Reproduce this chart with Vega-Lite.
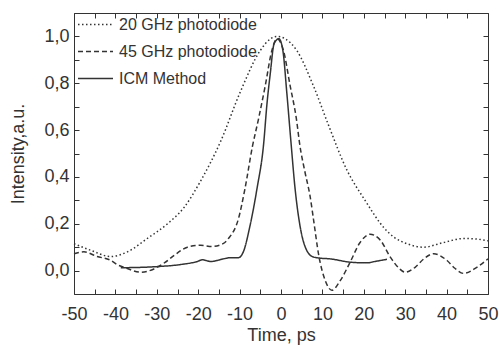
{
  "$schema": "https://vega.github.io/schema/vega-lite/v6.json",
  "width": 414,
  "height": 281,
  "autosize": {"type": "none"},
  "padding": {"left": 74, "top": 13, "right": 11, "bottom": 51},
  "background": "white",
  "config": {
    "view": {"stroke": null},
    "font": "Liberation Sans",
    "axis": {
      "grid": false,
      "domainColor": "#333333",
      "domainWidth": 1,
      "tickColor": "#333333",
      "tickWidth": 1,
      "tickSize": -5,
      "labelColor": "#333333",
      "labelFont": "Liberation Sans",
      "labelFontSize": 18,
      "titleColor": "#333333",
      "titleFont": "Liberation Sans",
      "titleFontSize": 18,
      "titleFontWeight": "normal"
    },
    "legend": {
      "labelFont": "Liberation Sans",
      "labelFontSize": 16,
      "labelColor": "#333333"
    }
  },
  "data": {
    "values": [
      {"t": -50, "v": 0.115, "s": "20 GHz photodiode"},
      {"t": -46, "v": 0.087, "s": "20 GHz photodiode"},
      {"t": -41.1, "v": 0.06, "s": "20 GHz photodiode"},
      {"t": -37.1, "v": 0.08, "s": "20 GHz photodiode"},
      {"t": -32.3, "v": 0.137, "s": "20 GHz photodiode"},
      {"t": -27.4, "v": 0.2, "s": "20 GHz photodiode"},
      {"t": -23.4, "v": 0.27, "s": "20 GHz photodiode"},
      {"t": -19.5, "v": 0.38, "s": "20 GHz photodiode"},
      {"t": -14.5, "v": 0.555, "s": "20 GHz photodiode"},
      {"t": -9.9, "v": 0.76, "s": "20 GHz photodiode"},
      {"t": -5, "v": 0.94, "s": "20 GHz photodiode"},
      {"t": -2.5, "v": 0.99, "s": "20 GHz photodiode"},
      {"t": -1, "v": 1.0, "s": "20 GHz photodiode"},
      {"t": 1, "v": 0.99, "s": "20 GHz photodiode"},
      {"t": 3.8, "v": 0.94, "s": "20 GHz photodiode"},
      {"t": 7.8, "v": 0.79, "s": "20 GHz photodiode"},
      {"t": 11.5, "v": 0.62, "s": "20 GHz photodiode"},
      {"t": 15.9, "v": 0.43, "s": "20 GHz photodiode"},
      {"t": 20.3, "v": 0.3, "s": "20 GHz photodiode"},
      {"t": 25, "v": 0.18, "s": "20 GHz photodiode"},
      {"t": 27.5, "v": 0.14, "s": "20 GHz photodiode"},
      {"t": 30.4, "v": 0.115, "s": "20 GHz photodiode"},
      {"t": 34.4, "v": 0.1, "s": "20 GHz photodiode"},
      {"t": 39.3, "v": 0.12, "s": "20 GHz photodiode"},
      {"t": 44.1, "v": 0.137, "s": "20 GHz photodiode"},
      {"t": 47, "v": 0.135, "s": "20 GHz photodiode"},
      {"t": 50, "v": 0.127, "s": "20 GHz photodiode"},

      {"t": -50, "v": 0.072, "s": "45 GHz photodiode"},
      {"t": -47.6, "v": 0.08, "s": "45 GHz photodiode"},
      {"t": -44.4, "v": 0.06, "s": "45 GHz photodiode"},
      {"t": -41.3, "v": 0.045, "s": "45 GHz photodiode"},
      {"t": -39.5, "v": 0.025, "s": "45 GHz photodiode"},
      {"t": -37.3, "v": 0.01, "s": "45 GHz photodiode"},
      {"t": -33.9, "v": -0.007, "s": "45 GHz photodiode"},
      {"t": -30.7, "v": 0.007, "s": "45 GHz photodiode"},
      {"t": -28, "v": 0.035, "s": "45 GHz photodiode"},
      {"t": -25.8, "v": 0.065, "s": "45 GHz photodiode"},
      {"t": -22.6, "v": 0.1, "s": "45 GHz photodiode"},
      {"t": -19.4, "v": 0.108, "s": "45 GHz photodiode"},
      {"t": -16.6, "v": 0.103, "s": "45 GHz photodiode"},
      {"t": -14, "v": 0.115, "s": "45 GHz photodiode"},
      {"t": -12.7, "v": 0.137, "s": "45 GHz photodiode"},
      {"t": -10.3, "v": 0.22, "s": "45 GHz photodiode"},
      {"t": -8.7, "v": 0.35, "s": "45 GHz photodiode"},
      {"t": -6.9, "v": 0.53, "s": "45 GHz photodiode"},
      {"t": -5.4, "v": 0.65, "s": "45 GHz photodiode"},
      {"t": -3.8, "v": 0.79, "s": "45 GHz photodiode"},
      {"t": -2.2, "v": 0.94, "s": "45 GHz photodiode"},
      {"t": -1, "v": 0.99, "s": "45 GHz photodiode"},
      {"t": 0.6, "v": 0.94, "s": "45 GHz photodiode"},
      {"t": 2.2, "v": 0.79, "s": "45 GHz photodiode"},
      {"t": 3.7, "v": 0.65, "s": "45 GHz photodiode"},
      {"t": 4.6, "v": 0.53, "s": "45 GHz photodiode"},
      {"t": 5.8, "v": 0.42, "s": "45 GHz photodiode"},
      {"t": 7.0, "v": 0.32, "s": "45 GHz photodiode"},
      {"t": 8.0, "v": 0.2, "s": "45 GHz photodiode"},
      {"t": 9.05, "v": 0.072, "s": "45 GHz photodiode"},
      {"t": 10.7, "v": -0.043, "s": "45 GHz photodiode"},
      {"t": 12.3, "v": -0.084, "s": "45 GHz photodiode"},
      {"t": 14.3, "v": -0.043, "s": "45 GHz photodiode"},
      {"t": 16.7, "v": 0.036, "s": "45 GHz photodiode"},
      {"t": 19.1, "v": 0.12, "s": "45 GHz photodiode"},
      {"t": 21.5, "v": 0.155, "s": "45 GHz photodiode"},
      {"t": 24.0, "v": 0.13, "s": "45 GHz photodiode"},
      {"t": 26.4, "v": 0.058, "s": "45 GHz photodiode"},
      {"t": 28.5, "v": 0.01, "s": "45 GHz photodiode"},
      {"t": 30.0, "v": -0.007, "s": "45 GHz photodiode"},
      {"t": 32.4, "v": 0.014, "s": "45 GHz photodiode"},
      {"t": 34.5, "v": 0.05, "s": "45 GHz photodiode"},
      {"t": 36.9, "v": 0.072, "s": "45 GHz photodiode"},
      {"t": 40.1, "v": 0.043, "s": "45 GHz photodiode"},
      {"t": 42, "v": 0.01, "s": "45 GHz photodiode"},
      {"t": 44.1, "v": -0.012, "s": "45 GHz photodiode"},
      {"t": 47.3, "v": 0.014, "s": "45 GHz photodiode"},
      {"t": 50, "v": 0.05, "s": "45 GHz photodiode"},

      {"t": -38.7, "v": 0.012, "s": "ICM Method"},
      {"t": -29.9, "v": 0.017, "s": "ICM Method"},
      {"t": -24.2, "v": 0.026, "s": "ICM Method"},
      {"t": -20.2, "v": 0.039, "s": "ICM Method"},
      {"t": -19, "v": 0.046, "s": "ICM Method"},
      {"t": -17, "v": 0.039, "s": "ICM Method"},
      {"t": -16.3, "v": 0.04, "s": "ICM Method"},
      {"t": -13.9, "v": 0.05, "s": "ICM Method"},
      {"t": -12.3, "v": 0.055, "s": "ICM Method"},
      {"t": -10.3, "v": 0.055, "s": "ICM Method"},
      {"t": -9.1, "v": 0.08, "s": "ICM Method"},
      {"t": -7.5, "v": 0.19, "s": "ICM Method"},
      {"t": -5.8, "v": 0.35, "s": "ICM Method"},
      {"t": -4.2, "v": 0.54, "s": "ICM Method"},
      {"t": -3.4, "v": 0.71, "s": "ICM Method"},
      {"t": -2.6, "v": 0.84, "s": "ICM Method"},
      {"t": -1.65, "v": 0.97, "s": "ICM Method"},
      {"t": -0.5, "v": 0.99, "s": "ICM Method"},
      {"t": 0.45, "v": 0.94, "s": "ICM Method"},
      {"t": 1.4, "v": 0.76, "s": "ICM Method"},
      {"t": 2.4, "v": 0.55, "s": "ICM Method"},
      {"t": 3.4, "v": 0.35, "s": "ICM Method"},
      {"t": 4.6, "v": 0.19, "s": "ICM Method"},
      {"t": 6.2, "v": 0.087, "s": "ICM Method"},
      {"t": 7.8, "v": 0.058, "s": "ICM Method"},
      {"t": 9.5, "v": 0.053, "s": "ICM Method"},
      {"t": 11.9, "v": 0.05, "s": "ICM Method"},
      {"t": 16.7, "v": 0.036, "s": "ICM Method"},
      {"t": 20.7, "v": 0.033, "s": "ICM Method"},
      {"t": 23, "v": 0.04, "s": "ICM Method"},
      {"t": 25.6, "v": 0.048, "s": "ICM Method"}
    ]
  },
  "layer": [
    {
      "mark": {"type": "line", "color": "#333333", "strokeWidth": 1.5, "interpolate": "monotone"},
      "encoding": {
        "x": {
          "field": "t", "type": "quantitative",
          "scale": {"domain": [-50, 50], "nice": false, "zero": false},
          "axis": {
            "orient": "bottom",
            "title": "Time, ps",
            "values": [-50, -45, -40, -35, -30, -25, -20, -15, -10, -5, 0, 5, 10, 15, 20, 25, 30, 35, 40, 45, 50],
            "labelExpr": "datum.value % 10 === 0 ? (datum.value < 0 ? '-' + abs(datum.value) : '' + datum.value) : ''",
            "labelPadding": 16,
            "labelFlush": false,
            "labelOverlap": false,
            "titlePadding": 3
          }
        },
        "y": {
          "field": "v", "type": "quantitative",
          "scale": {"domain": [-0.1, 1.1], "nice": false, "zero": false},
          "axis": {
            "orient": "left",
            "title": "Intensity,a.u.",
            "values": [-0.1, 0, 0.1, 0.2, 0.3, 0.4, 0.5, 0.6, 0.7, 0.8, 0.9, 1.0, 1.1],
            "labelExpr": "(abs(round(datum.value * 10)) % 2 === 0) ? replace(format(datum.value, '.1f'), '.', ',') : ''",
            "labelPadding": 10,
            "labelFlush": false,
            "labelOverlap": false,
            "titlePadding": 16
          }
        },
        "strokeDash": {
          "field": "s", "type": "nominal",
          "scale": {
            "domain": ["20 GHz photodiode", "45 GHz photodiode", "ICM Method"],
            "range": [[1.5, 2.5], [5, 3], [1, 0]]
          },
          "legend": {
            "title": null,
            "orient": "none",
            "legendX": 3,
            "legendY": -7,
            "padding": 0,
            "symbolType": "stroke",
            "symbolSize": 1225,
            "symbolStrokeColor": "#333333",
            "symbolStrokeWidth": 1.5,
            "labelOffset": 5,
            "rowPadding": -12
          }
        }
      }
    },
    {
      "mark": {"type": "line", "opacity": 0},
      "encoding": {
        "x": {
          "field": "t", "type": "quantitative",
          "axis": {
            "orient": "top",
            "title": null,
            "labels": false,
            "values": [-50, -45, -40, -35, -30, -25, -20, -15, -10, -5, 0, 5, 10, 15, 20, 25, 30, 35, 40, 45, 50]
          }
        },
        "y": {
          "field": "v", "type": "quantitative",
          "axis": {
            "orient": "right",
            "title": null,
            "labels": false,
            "values": [-0.1, 0, 0.1, 0.2, 0.3, 0.4, 0.5, 0.6, 0.7, 0.8, 0.9, 1.0, 1.1]
          }
        },
        "detail": {"field": "s"}
      }
    }
  ],
  "resolve": {"axis": {"x": "independent", "y": "independent"}}
}
